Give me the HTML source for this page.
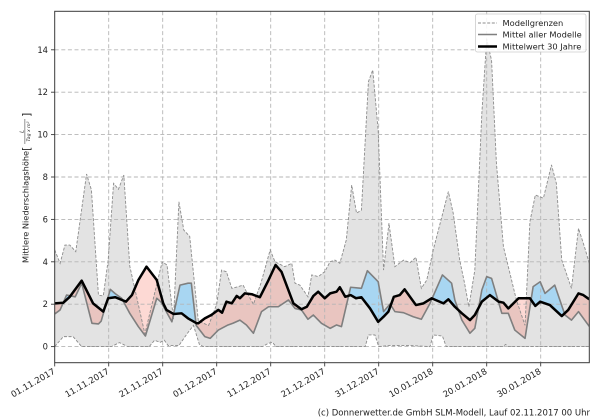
<!DOCTYPE html>
<html><head><meta charset="utf-8">
<style>
html,body{margin:0;padding:0;background:#fff;}
svg{display:block;font-family:"DejaVu Sans","Liberation Sans",sans-serif;}
</style></head>
<body>
<svg width="600" height="420" viewBox="0 0 600 420" xmlns="http://www.w3.org/2000/svg">
<defs>
  <clipPath id="plot"><rect x="54.7" y="11.3" width="534.6" height="351.4"/></clipPath>
  <clipPath id="aboveM" clipPathUnits="userSpaceOnUse">
    <polygon points="0,1.54 1,1.73 2.2,2.43 3.8,2.35 5,2.99 6.9,1.1 8.1,1.07 8.6,1.2 10.3,2.7 11.2,2.5 12.4,2.28 13.9,1.57 15.5,0.94 16.8,0.5 18.9,2.28 19.7,2.1 21.7,1.17 23.2,2.9 24.7,2.99 25.3,2.99 26.2,1.0 27.8,0.47 28.8,0.39 30.3,0.78 32.1,1.02 33,1.1 34.3,1.25 35.5,1.02 36.8,0.63 38.3,1.65 39.6,1.88 41.4,1.88 43.3,2.2 44.5,1.8 45.7,1.73 46.9,1.29 47.9,1.49 49.4,1.1 51,0.86 52.2,1.02 53.1,0.94 54.8,2.8 56.8,2.75 57.9,3.58 59.9,3.06 60.9,1.65 62.1,2.01 63,1.65 64.6,1.6 66.4,1.41 67.9,1.29 69.5,2.04 71.8,3.38 73.5,2.99 74.1,2.2 75.4,1.25 76.9,0.63 77.8,0.86 79.1,2.67 80,3.3 80.9,3.22 82.8,1.57 84,1.57 85.2,0.78 87.1,0.39 88.6,2.83 89.9,3.06 90.8,2.51 92.6,2.9 94.5,1.49 95.7,1.25 97,1.65 99,0.95 99,20 0,20"/>
  </clipPath>
  <clipPath id="aboveB" clipPathUnits="userSpaceOnUse">
    <polygon points="0,2.04 1.6,2.07 2.8,2.35 5,3.11 7.1,2.04 9,1.65 9.9,2.28 11.2,2.33 13.2,2.12 14.3,2.43 15.5,3.14 17,3.77 18.9,3.14 20.1,2.04 20.7,1.73 22,1.54 23.5,1.57 24.7,1.33 26.3,1.1 26.6,1.1 27.8,1.33 29,1.49 30.3,1.73 31,1.6 31.8,2.12 32.8,2.04 33.7,2.39 34.3,2.28 35.2,2.51 36.5,2.47 38,2.33 39.6,3.14 40.9,3.85 42,3.53 44.2,2.04 45.7,1.76 46.7,1.88 47.9,2.39 48.8,2.59 50,2.28 51,2.51 52.2,2.59 52.8,2.8 53.8,2.35 54.8,2.43 55.8,2.28 56.8,2.33 58.4,1.8 59.9,1.17 60.9,1.41 61.8,1.65 62.8,2.35 63.9,2.43 64.8,2.7 66.9,1.96 68.3,2.04 69.8,2.28 72,2.04 72.9,2.23 74.1,1.88 75.4,1.57 76.9,1.25 77.8,1.49 79.1,2.12 80.6,2.43 82.2,2.12 83.1,2.07 84,1.8 85.9,2.28 88,2.28 89,1.92 89.9,2.12 91.7,1.96 93.9,1.44 95.1,1.73 97,2.51 97.9,2.43 99,2.23 99,20 0,20"/>
  </clipPath>
</defs>

<rect x="0" y="0" width="600" height="420" fill="#fff"/>

<g clip-path="url(#plot)">
 <g transform="translate(54.7,346.6) scale(5.4,-21.2)">
  <!-- model range fill -->
  <polygon fill="#e3e3e3" stroke="none" points="0,4.56 1,3.93 1.9,4.79 2.8,4.79 3.9,4.48 5.9,8.14 6.8,7.39 8.1,2.43 9,2.39 9.9,4.08 10.9,7.7 11.8,7.42 12.8,8.09 13.9,3.8 16.7,0.6 19.9,4.0 20.8,3.85 22,1.3 23,6.83 23.9,5.5 25,5.2 26.6,1.2 28.5,1.0 30,2.0 30.9,3.61 31.8,3.53 32.8,2.75 34,2.83 34.9,2.9 35.5,2.59 36.8,2.0 38.2,3.0 39.9,4.56 40.8,4.0 42.6,3.77 43.9,3.93 44.5,2.99 45.4,2.9 46.9,2.35 47.6,3.38 48.8,3.3 50,3.53 51,4.0 51.9,4.08 52.8,3.93 54,5.03 55,7.62 55.9,6.29 56.8,6.44 58.1,12.5 58.9,13.05 59.9,10.2 60.9,3.61 61.9,5.82 63,3.77 64.6,4.08 65.8,3.96 66.9,4.21 67.9,2.75 68.9,3.14 70.1,4.56 72.9,7.31 73.8,6.29 75,4.08 75.9,2.99 76.7,1.88 77.8,3.61 79.1,11.0 80,14.5 80.9,13.5 81.8,8.65 83.1,4.71 84.3,3.46 85.5,2.2 87.1,1.0 88,5.89 89,7.15 90.5,7.0 92,8.57 92.9,7.7 93.9,4.08 95.7,2.75 97,5.58 98.1,4.71 99,3.93 99,0 84,0 83.5,0.1 83,0 72.5,0 71.8,0.5 70.1,0.55 69.5,0 66,0.05 62,0.05 60,0 59.3,0.55 58.1,0.55 57.5,0 41,0 40.3,0.2 39.5,0.15 38.5,0 27.5,0 26.8,0.1 25.7,1.0 24.5,0.6 23,0.05 21,0.05 20.3,0.3 19.5,0.2 18.5,0.3 17.5,0 13.5,0 12,0.19 10.5,0 5,0 3.4,0.47 1.6,0.47 0,0"/>
  <!-- pink: 30y above mean -->
  <polygon clip-path="url(#aboveM)" fill="rgba(250,128,114,0.3)" stroke="none" points="0,2.04 1.6,2.07 2.8,2.35 5,3.11 7.1,2.04 9,1.65 9.9,2.28 11.2,2.33 13.2,2.12 14.3,2.43 15.5,3.14 17,3.77 18.9,3.14 20.1,2.04 20.7,1.73 22,1.54 23.5,1.57 24.7,1.33 26.3,1.1 26.6,1.1 27.8,1.33 29,1.49 30.3,1.73 31,1.6 31.8,2.12 32.8,2.04 33.7,2.39 34.3,2.28 35.2,2.51 36.5,2.47 38,2.33 39.6,3.14 40.9,3.85 42,3.53 44.2,2.04 45.7,1.76 46.7,1.88 47.9,2.39 48.8,2.59 50,2.28 51,2.51 52.2,2.59 52.8,2.8 53.8,2.35 54.8,2.43 55.8,2.28 56.8,2.33 58.4,1.8 59.9,1.17 60.9,1.41 61.8,1.65 62.8,2.35 63.9,2.43 64.8,2.7 66.9,1.96 68.3,2.04 69.8,2.28 72,2.04 72.9,2.23 74.1,1.88 75.4,1.57 76.9,1.25 77.8,1.49 79.1,2.12 80.6,2.43 82.2,2.12 83.1,2.07 84,1.8 85.9,2.28 88,2.28 89,1.92 89.9,2.12 91.7,1.96 93.9,1.44 95.1,1.73 97,2.51 97.9,2.43 99,2.23 99,-2 0,-2"/>
  <!-- blue: mean above 30y -->
  <polygon clip-path="url(#aboveB)" fill="rgba(135,206,250,0.64)" stroke="none" points="0,1.54 1,1.73 2.2,2.43 3.8,2.35 5,2.99 6.9,1.1 8.1,1.07 8.6,1.2 10.3,2.7 11.2,2.5 12.4,2.28 13.9,1.57 15.5,0.94 16.8,0.5 18.9,2.28 19.7,2.1 21.7,1.17 23.2,2.9 24.7,2.99 25.3,2.99 26.2,1.0 27.8,0.47 28.8,0.39 30.3,0.78 32.1,1.02 33,1.1 34.3,1.25 35.5,1.02 36.8,0.63 38.3,1.65 39.6,1.88 41.4,1.88 43.3,2.2 44.5,1.8 45.7,1.73 46.9,1.29 47.9,1.49 49.4,1.1 51,0.86 52.2,1.02 53.1,0.94 54.8,2.8 56.8,2.75 57.9,3.58 59.9,3.06 60.9,1.65 62.1,2.01 63,1.65 64.6,1.6 66.4,1.41 67.9,1.29 69.5,2.04 71.8,3.38 73.5,2.99 74.1,2.2 75.4,1.25 76.9,0.63 77.8,0.86 79.1,2.67 80,3.3 80.9,3.22 82.8,1.57 84,1.57 85.2,0.78 87.1,0.39 88.6,2.83 89.9,3.06 90.8,2.51 92.6,2.9 94.5,1.49 95.7,1.25 97,1.65 99,0.95 99,-2 0,-2"/>
 </g>

 <!-- grid -->
 <g stroke="#b5b5b5" stroke-width="0.9" stroke-dasharray="4,2.6" fill="none">
  <line x1="108.7" y1="11.3" x2="108.7" y2="362.7"/>
  <line x1="162.7" y1="11.3" x2="162.7" y2="362.7"/>
  <line x1="216.7" y1="11.3" x2="216.7" y2="362.7"/>
  <line x1="270.7" y1="11.3" x2="270.7" y2="362.7"/>
  <line x1="324.7" y1="11.3" x2="324.7" y2="362.7"/>
  <line x1="378.7" y1="11.3" x2="378.7" y2="362.7"/>
  <line x1="432.7" y1="11.3" x2="432.7" y2="362.7"/>
  <line x1="486.7" y1="11.3" x2="486.7" y2="362.7"/>
  <line x1="540.7" y1="11.3" x2="540.7" y2="362.7"/>
  <line x1="54.7" y1="346.6" x2="589.3" y2="346.6"/>
  <line x1="54.7" y1="304.2" x2="589.3" y2="304.2"/>
  <line x1="54.7" y1="261.8" x2="589.3" y2="261.8"/>
  <line x1="54.7" y1="219.4" x2="589.3" y2="219.4"/>
  <line x1="54.7" y1="177.0" x2="589.3" y2="177.0"/>
  <line x1="54.7" y1="134.6" x2="589.3" y2="134.6"/>
  <line x1="54.7" y1="92.2" x2="589.3" y2="92.2"/>
  <line x1="54.7" y1="49.8" x2="589.3" y2="49.8"/>
 </g>

 <g transform="translate(54.7,346.6) scale(5.4,-21.2)" fill="none">
  <!-- upper and lower bounds -->
  <polyline vector-effect="non-scaling-stroke" stroke="#8c8c8c" stroke-width="0.9" stroke-dasharray="3,1.6" points="0,4.56 1,3.93 1.9,4.79 2.8,4.79 3.9,4.48 5.9,8.14 6.8,7.39 8.1,2.43 9,2.39 9.9,4.08 10.9,7.7 11.8,7.42 12.8,8.09 13.9,3.8 16.7,0.6 19.9,4.0 20.8,3.85 22,1.3 23,6.83 23.9,5.5 25,5.2 26.6,1.2 28.5,1.0 30,2.0 30.9,3.61 31.8,3.53 32.8,2.75 34,2.83 34.9,2.9 35.5,2.59 36.8,2.0 38.2,3.0 39.9,4.56 40.8,4.0 42.6,3.77 43.9,3.93 44.5,2.99 45.4,2.9 46.9,2.35 47.6,3.38 48.8,3.3 50,3.53 51,4.0 51.9,4.08 52.8,3.93 54,5.03 55,7.62 55.9,6.29 56.8,6.44 58.1,12.5 58.9,13.05 59.9,10.2 60.9,3.61 61.9,5.82 63,3.77 64.6,4.08 65.8,3.96 66.9,4.21 67.9,2.75 68.9,3.14 70.1,4.56 72.9,7.31 73.8,6.29 75,4.08 75.9,2.99 76.7,1.88 77.8,3.61 79.1,11.0 80,14.5 80.9,13.5 81.8,8.65 83.1,4.71 84.3,3.46 85.5,2.2 87.1,1.0 88,5.89 89,7.15 90.5,7.0 92,8.57 92.9,7.7 93.9,4.08 95.7,2.75 97,5.58 98.1,4.71 99,3.93"/>
  <polyline vector-effect="non-scaling-stroke" stroke="#8c8c8c" stroke-width="0.9" stroke-dasharray="3,1.6" points="0,0 1.6,0.47 3.4,0.47 5,0 10.5,0 12,0.19 13.5,0 17.5,0 18.5,0.3 19.5,0.2 20.3,0.3 21,0.05 23,0.05 24.5,0.6 25.7,1.0 26.8,0.1 27.5,0 38.5,0 39.5,0.15 40.3,0.2 41,0 57.5,0 58.1,0.55 59.3,0.55 60,0 62,0.05 66,0.05 69.5,0 70.1,0.55 71.8,0.5 72.5,0 83,0 83.5,0.1 84,0 99,0"/>
  <!-- mean of models -->
  <polyline vector-effect="non-scaling-stroke" stroke="#7f7f7f" stroke-width="1.6" stroke-linejoin="round" points="0,1.54 1,1.73 2.2,2.43 3.8,2.35 5,2.99 6.9,1.1 8.1,1.07 8.6,1.2 10.3,2.7 11.2,2.5 12.4,2.28 13.9,1.57 15.5,0.94 16.8,0.5 18.9,2.28 19.7,2.1 21.7,1.17 23.2,2.9 24.7,2.99 25.3,2.99 26.2,1.0 27.8,0.47 28.8,0.39 30.3,0.78 32.1,1.02 33,1.1 34.3,1.25 35.5,1.02 36.8,0.63 38.3,1.65 39.6,1.88 41.4,1.88 43.3,2.2 44.5,1.8 45.7,1.73 46.9,1.29 47.9,1.49 49.4,1.1 51,0.86 52.2,1.02 53.1,0.94 54.8,2.8 56.8,2.75 57.9,3.58 59.9,3.06 60.9,1.65 62.1,2.01 63,1.65 64.6,1.6 66.4,1.41 67.9,1.29 69.5,2.04 71.8,3.38 73.5,2.99 74.1,2.2 75.4,1.25 76.9,0.63 77.8,0.86 79.1,2.67 80,3.3 80.9,3.22 82.8,1.57 84,1.57 85.2,0.78 87.1,0.39 88.6,2.83 89.9,3.06 90.8,2.51 92.6,2.9 94.5,1.49 95.7,1.25 97,1.65 99,0.95"/>
  <!-- 30 year mean -->
  <polyline vector-effect="non-scaling-stroke" stroke="#000" stroke-width="2.5" stroke-linejoin="round" points="0,2.04 1.6,2.07 2.8,2.35 5,3.11 7.1,2.04 9,1.65 9.9,2.28 11.2,2.33 13.2,2.12 14.3,2.43 15.5,3.14 17,3.77 18.9,3.14 20.1,2.04 20.7,1.73 22,1.54 23.5,1.57 24.7,1.33 26.3,1.1 26.6,1.1 27.8,1.33 29,1.49 30.3,1.73 31,1.6 31.8,2.12 32.8,2.04 33.7,2.39 34.3,2.28 35.2,2.51 36.5,2.47 38,2.33 39.6,3.14 40.9,3.85 42,3.53 44.2,2.04 45.7,1.76 46.7,1.88 47.9,2.39 48.8,2.59 50,2.28 51,2.51 52.2,2.59 52.8,2.8 53.8,2.35 54.8,2.43 55.8,2.28 56.8,2.33 58.4,1.8 59.9,1.17 60.9,1.41 61.8,1.65 62.8,2.35 63.9,2.43 64.8,2.7 66.9,1.96 68.3,2.04 69.8,2.28 72,2.04 72.9,2.23 74.1,1.88 75.4,1.57 76.9,1.25 77.8,1.49 79.1,2.12 80.6,2.43 82.2,2.12 83.1,2.07 84,1.8 85.9,2.28 88,2.28 89,1.92 89.9,2.12 91.7,1.96 93.9,1.44 95.1,1.73 97,2.51 97.9,2.43 99,2.23"/>
 </g>
</g>

<!-- spines -->
<rect x="54.7" y="11.3" width="534.6" height="351.4" fill="none" stroke="#3a3a3a" stroke-width="1"/>

<!-- y ticks -->
<g stroke="#3a3a3a" stroke-width="0.9">
 <line x1="51" y1="346.6" x2="54.7" y2="346.6"/>
 <line x1="51" y1="304.2" x2="54.7" y2="304.2"/>
 <line x1="51" y1="261.8" x2="54.7" y2="261.8"/>
 <line x1="51" y1="219.4" x2="54.7" y2="219.4"/>
 <line x1="51" y1="177.0" x2="54.7" y2="177.0"/>
 <line x1="51" y1="134.6" x2="54.7" y2="134.6"/>
 <line x1="51" y1="92.2" x2="54.7" y2="92.2"/>
 <line x1="51" y1="49.8" x2="54.7" y2="49.8"/>
 <line x1="54.7" y1="362.7" x2="54.7" y2="366.4"/>
 <line x1="108.7" y1="362.7" x2="108.7" y2="366.4"/>
 <line x1="162.7" y1="362.7" x2="162.7" y2="366.4"/>
 <line x1="216.7" y1="362.7" x2="216.7" y2="366.4"/>
 <line x1="270.7" y1="362.7" x2="270.7" y2="366.4"/>
 <line x1="324.7" y1="362.7" x2="324.7" y2="366.4"/>
 <line x1="378.7" y1="362.7" x2="378.7" y2="366.4"/>
 <line x1="432.7" y1="362.7" x2="432.7" y2="366.4"/>
 <line x1="486.7" y1="362.7" x2="486.7" y2="366.4"/>
 <line x1="540.7" y1="362.7" x2="540.7" y2="366.4"/>
</g>

<g font-size="8.4" fill="#222" text-anchor="end">
 <text x="48" y="349.6">0</text>
 <text x="48" y="307.2">2</text>
 <text x="48" y="264.8">4</text>
 <text x="48" y="222.4">6</text>
 <text x="48" y="180.0">8</text>
 <text x="48" y="137.6">10</text>
 <text x="48" y="95.2">12</text>
 <text x="48" y="52.8">14</text>
</g>

<!-- x tick labels -->
<g font-size="8.6" fill="#222" text-anchor="end">
 <text transform="translate(52.2,367) rotate(-30)" y="7">01.11.2017</text>
 <text transform="translate(106.2,367) rotate(-30)" y="7">11.11.2017</text>
 <text transform="translate(160.2,367) rotate(-30)" y="7">21.11.2017</text>
 <text transform="translate(214.2,367) rotate(-30)" y="7">01.12.2017</text>
 <text transform="translate(268.2,367) rotate(-30)" y="7">11.12.2017</text>
 <text transform="translate(322.2,367) rotate(-30)" y="7">21.12.2017</text>
 <text transform="translate(376.2,367) rotate(-30)" y="7">31.12.2017</text>
 <text transform="translate(430.2,367) rotate(-30)" y="7">10.01.2018</text>
 <text transform="translate(484.2,367) rotate(-30)" y="7">20.01.2018</text>
 <text transform="translate(538.2,367) rotate(-30)" y="7">30.01.2018</text>
</g>

<!-- y axis label -->
<g transform="translate(28.5,263) rotate(-90)" fill="#222">
 <text x="0" y="0" font-size="8.2">Mittlere Niederschlagshöhe</text>
 <text x="112" y="1.5" font-size="11">[</text>
 <text x="131.5" y="-5.2" font-size="5" font-style="italic" text-anchor="middle">L</text>
 <line x1="119" y1="-3.6" x2="144" y2="-3.6" stroke="#222" stroke-width="0.5"/>
 <text x="131.5" y="1.6" font-size="4.6" font-style="italic" text-anchor="middle">Tag x m²</text>
 <text x="146" y="1.5" font-size="11">]</text>
</g>

<!-- legend -->
<rect x="475.5" y="14" width="110.5" height="38" rx="2" ry="2" fill="#fff" fill-opacity="0.85" stroke="#cccccc" stroke-width="0.8"/>
<line x1="478" y1="23" x2="497" y2="23" stroke="#8c8c8c" stroke-width="0.9" stroke-dasharray="3,1.6"/>
<line x1="478" y1="34.5" x2="497" y2="34.5" stroke="#7f7f7f" stroke-width="1.6"/>
<line x1="478" y1="46.5" x2="497" y2="46.5" stroke="#000" stroke-width="2.5"/>
<g font-size="8.3" fill="#222">
 <text x="502.5" y="26">Modellgrenzen</text>
 <text x="502.5" y="37.5">Mittel aller Modelle</text>
 <text x="502.5" y="49.5">Mittelwert 30 Jahre</text>
</g>

<!-- footer -->
<text x="590" y="415.5" font-size="8.5" fill="#222" text-anchor="end">(c) Donnerwetter.de GmbH SLM-Modell, Lauf 02.11.2017 00 Uhr</text>
</svg>
</body></html>
